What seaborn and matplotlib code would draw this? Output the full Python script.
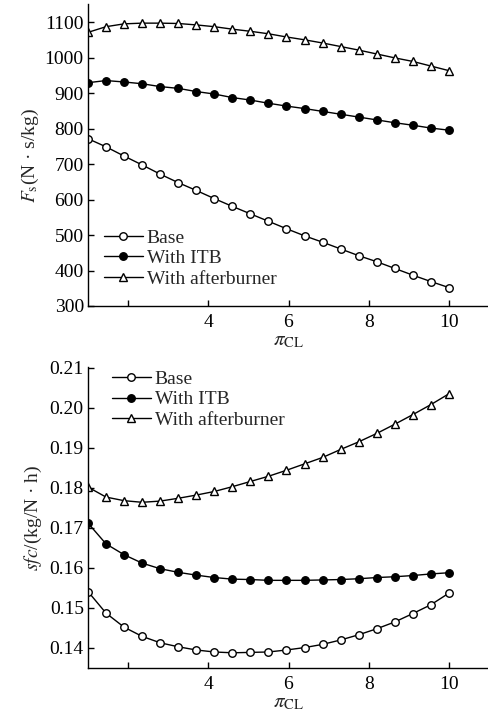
import numpy as np
import pandas as pd
import matplotlib
matplotlib.use("Agg")
import matplotlib.pyplot as plt
import seaborn as sns

# ---- data ----
pi_cl = [1.0, 1.45, 1.9, 2.35, 2.8, 3.25, 3.7, 4.15, 4.6, 5.05, 5.5,
         5.95, 6.4, 6.85, 7.3, 7.75, 8.2, 8.65, 9.1, 9.55, 10.0]

fs_base = [772, 749, 723, 698, 672, 648, 626, 603, 581, 560, 539,
           518, 498, 480, 461, 442, 425, 406, 387, 369, 352]
fs_itb = [930, 936, 932, 927, 919, 914, 905, 898, 888, 881, 872,
          864, 857, 849, 841, 833, 825, 817, 810, 802, 796]
fs_ab = [1072, 1088, 1096, 1098, 1098, 1097, 1093, 1088, 1081, 1075, 1068,
         1059, 1051, 1042, 1032, 1022, 1011, 1000, 990, 977, 964]

sfc_base = [0.1541, 0.1487, 0.1452, 0.1429, 0.1413, 0.1403, 0.1395, 0.1390,
            0.1388, 0.1389, 0.1390, 0.1395, 0.1401, 0.1409, 0.1420, 0.1433,
            0.1448, 0.1465, 0.1486, 0.1508, 0.1537]
sfc_itb = [0.1712, 0.1660, 0.1633, 0.1612, 0.1598, 0.1589, 0.1582, 0.1576,
           0.1572, 0.1571, 0.1569, 0.1569, 0.1569, 0.1570, 0.1571, 0.1573,
           0.1576, 0.1578, 0.1581, 0.1585, 0.1588]
sfc_ab = [0.1802, 0.1777, 0.1768, 0.1764, 0.1767, 0.1774, 0.1782, 0.1791,
          0.1803, 0.1816, 0.1829, 0.1844, 0.1860, 0.1876, 0.1896, 0.1915,
          0.1936, 0.1959, 0.1983, 0.2008, 0.2035]

series_names = ["Base", "With ITB", "With afterburner"]
xticks = [2, 4, 6, 8, 10]
xticklabels = ["", "4", "6", "8", "10"]
fs_ticks = [300, 400, 500, 600, 700, 800, 900, 1000, 1100]
sfc_ticks = [0.14, 0.15, 0.16, 0.17, 0.18, 0.19, 0.20, 0.21]

sns.set_theme(style="ticks")
plt.rcParams["font.family"] = ["Liberation Serif", "DejaVu Serif"]
plt.rcParams["mathtext.fontset"] = "stix"

W, H = 489, 717
fig = plt.figure(figsize=(W / 100, H / 100), dpi=100)
ax1 = fig.add_axes([88 / W, 1 - 306 / H, (W - 88) / W, 302 / H])
ax2 = fig.add_axes([88 / W, 1 - 668 / H, (W - 88) / W, 301 / H])

styles = {
    "Base": dict(marker="o", markerfacecolor="white"),
    "With ITB": dict(marker="o", markerfacecolor="black"),
    "With afterburner": dict(marker="^", markerfacecolor="white"),
}

TICK_FS = 14
LEG_FS = 14


def draw(ax, ys):
    for name, y in zip(series_names, ys):
        df = pd.DataFrame({"x": pi_cl, "y": y})
        sns.lineplot(data=df, x="x", y="y", ax=ax, color="black", lw=1.0,
                     markersize=5.4, markeredgecolor="black",
                     markeredgewidth=1.0, label=name, **styles[name])
    ax.set_xlim(1, 11)
    ax.set_xticks(xticks)
    ax.set_xticklabels(xticklabels)
    ax.tick_params(direction="in", length=4, width=1, labelsize=TICK_FS,
                   colors="black")
    ax.tick_params(axis="y", pad=3)
    ax.tick_params(axis="x", pad=6)
    for s in ["top", "right"]:
        ax.spines[s].set_visible(False)
    for s in ["left", "bottom"]:
        ax.spines[s].set_linewidth(1.0)
        ax.spines[s].set_color("black")
    ax.set_xlabel(r"$\pi_{\rm CL}$", fontsize=15, labelpad=0)


draw(ax1, [fs_base, fs_itb, fs_ab])
ax1.set_ylim(300, 1152)
ax1.set_yticks(fs_ticks)
ax1.set_ylabel(r"$F_{\rm s}$(N · s/kg)", fontsize=14, labelpad=3)
ax1.legend(loc="lower left", bbox_to_anchor=(0.02, 0.035), frameon=False,
           fontsize=LEG_FS, handlelength=2.0, handletextpad=0.2,
           labelspacing=0.15, borderaxespad=0)

draw(ax2, [sfc_base, sfc_itb, sfc_ab])
ax2.set_ylim(0.135, 0.2102)
ax2.set_yticks(sfc_ticks)
ax2.set_yticklabels([f"{v:.2f}" for v in sfc_ticks])
ax2.set_ylabel(r"$sfc$/(kg/N · h)", fontsize=14, labelpad=4)
ax2.legend(loc="upper left", bbox_to_anchor=(0.04, 1.015), frameon=False,
           fontsize=LEG_FS, handlelength=2.0, handletextpad=0.2,
           labelspacing=0.15, borderaxespad=0)

fig.savefig("out.png", dpi=100)
